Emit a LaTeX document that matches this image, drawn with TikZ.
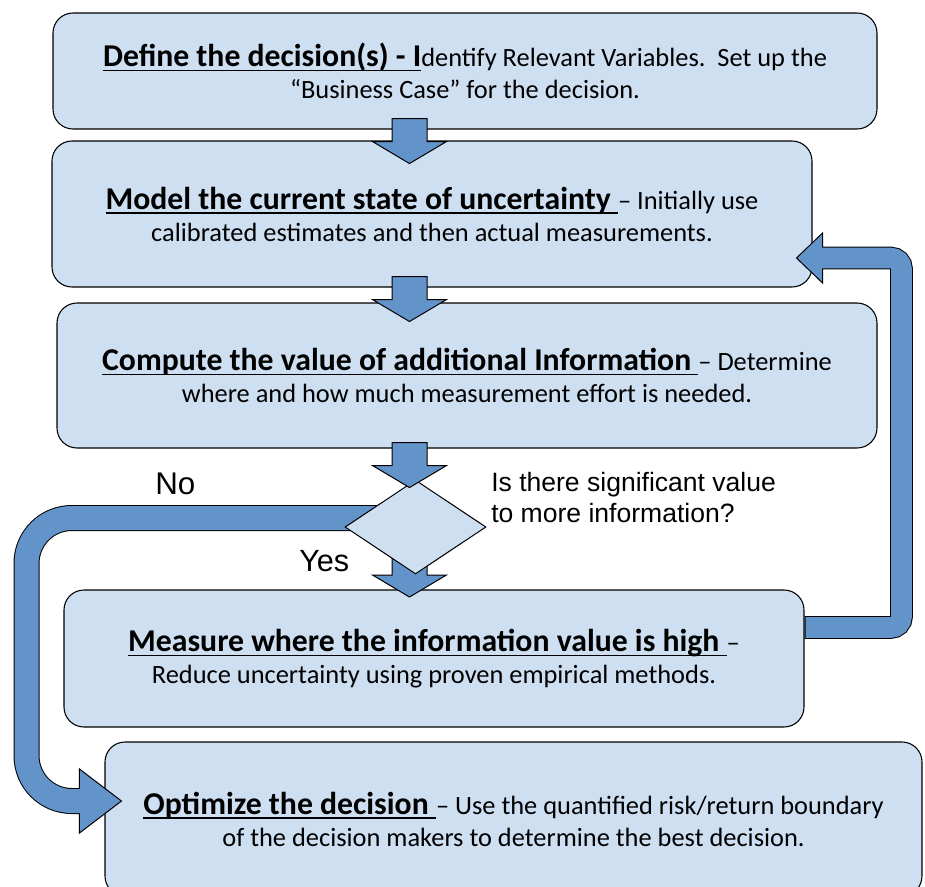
\documentclass[tikz,border=0pt]{standalone}
\usepackage{fontspec}
\setmainfont{Carlito}
\newfontfamily\arialfont{Liberation Sans}
\usetikzlibrary{shapes.geometric,calc}

\definecolor{boxblue}{RGB}{207,223,242}
\definecolor{arrowblue}{RGB}{99,148,201}

% bold, underlined lead-in of a step
\newcommand{\steptitle}[1]{{\fontsize{23.8}{24}\selectfont\bfseries\setbox0\hbox{#1}\rlap{\rule[-3.6pt]{\wd0}{1.1pt}}\box0}}

\tikzset{
  stepbox/.style={draw=black, fill=boxblue, line width=0.8pt, rounded corners=15pt,
    align=center, inner sep=0pt, font=\fontsize{19.8}{24}\selectfont},
  decision/.style={diamond, draw=black, fill=boxblue, line width=0.75pt, inner sep=0pt},
  blockarrow/.style={draw=black, fill=arrowblue, line width=0.75pt, line join=miter},
  pics/downarrow/.style={code={
    \path[blockarrow] (-17.5,0) -- (17.5,0) -- (17.5,-23) -- (37,-23) -- (0,-45)
      -- (-37,-23) -- (-17.5,-23) -- cycle;}},
}

\begin{document}
\begin{tikzpicture}[x=0.75pt,y=0.75pt,yscale=-1,xscale=1]
    \useasboundingbox (0,0) rectangle (925,886);
    % Step boxes
    \node[stepbox, minimum width=618pt, minimum height=87pt] (define) at (465,71)
        {\steptitle{Define the decision(s) - I}dentify Relevant Variables.\ \ Set up the\\
         “Business Case” for the decision.};
    \node[stepbox, minimum width=570pt, minimum height=109.5pt] (model) at (432,214)
        {\steptitle{Model the current state of uncertainty }-- Initially use\\
         calibrated estimates and then actual measurements.};
    \node[stepbox, minimum width=615pt, minimum height=108.75pt] (compute) at (467,375.5)
        {\steptitle{Compute the value of additional Information }-- Determine\\
         where and how much measurement effort is needed.};
    \node[stepbox, minimum width=555pt, minimum height=102.75pt] (measure) at (434,658.5)
        {\steptitle{Measure where the information value is high }--\\
         Reduce uncertainty using proven empirical methods.};
    \node[stepbox, minimum width=612.75pt, minimum height=115.5pt] (optimize) at (513.5,819)
        {\steptitle{Optimize the decision }-- Use the quantified risk/return boundary\\
         of the decision makers to determine the best decision.};
    % Down arrows between the steps
    \coordinate (col) at (409.5,0);
    \coordinate (decidept) at (415.5,527);
    \pic at ($(col |- define.south)+(0,-11)$) {downarrow};
    \pic at ($(col |- model.south)+(0,-11)$) {downarrow};
    % Loop back from measuring to the model
    \coordinate (yesstart) at ($(measure.east)+(0,-31)$);
    \coordinate (yesturn) at (901.5,627.5);
    \coordinate (yesend) at ($(model.east)+(10,44)$);
    \draw[black, line width=16.9pt, rounded corners=8pt] (yesstart) -- (yesturn) |- (yesend);
    \path[blockarrow] (yesend) ++(0,-25) -- ++(-26,25) -- ++(26,25) -- cycle;
    \draw[arrowblue, line width=15.4pt, rounded corners=8pt] ($(yesstart)+(1,0)$) -- (yesturn) |- ($(yesend)+(-1.5,0)$);
    % No branch to the optimize step
    \coordinate (nostart) at ($(decidept)+(0,-9)$);
    \coordinate (noturn) at (26.5,801);
    \coordinate (noend) at ($(optimize.west)+(-25,-18)$);
    \draw[black, line width=19.5pt, rounded corners=34pt] (nostart) -| (noturn) -- (noend);
    \path[blockarrow] (noend) ++(0,-32) -- ++(42,32) -- ++(-42,32) -- cycle;
    \draw[arrowblue, line width=18pt, rounded corners=34pt] (nostart) -| (noturn) -- ($(noend)+(1.5,0)$);
    % Decision
    \pic at ($(col |- decidept)+(0,25)$) {downarrow};
    \node[decision, minimum width=105.75pt, minimum height=70.5pt] (decide) at (decidept) {};
    \pic at ($(col |- compute.south)+(0,-6)$) {downarrow};
    % Decision labels
    \node[font=\arialfont\fontsize{23.5}{26}\selectfont, anchor=base west, inner sep=0pt] (no) at (155,494) {No};
    \node[font=\arialfont\fontsize{23}{26}\selectfont, anchor=base west, inner sep=0pt] (yes) at (299,571.5) {Yes};
    \node[font=\arialfont\fontsize{19.9}{23}\selectfont, align=left, anchor=north west, inner sep=0pt] (question) at (491,472)
        {Is there significant value\\to more information?};
\end{tikzpicture}
\end{document}
